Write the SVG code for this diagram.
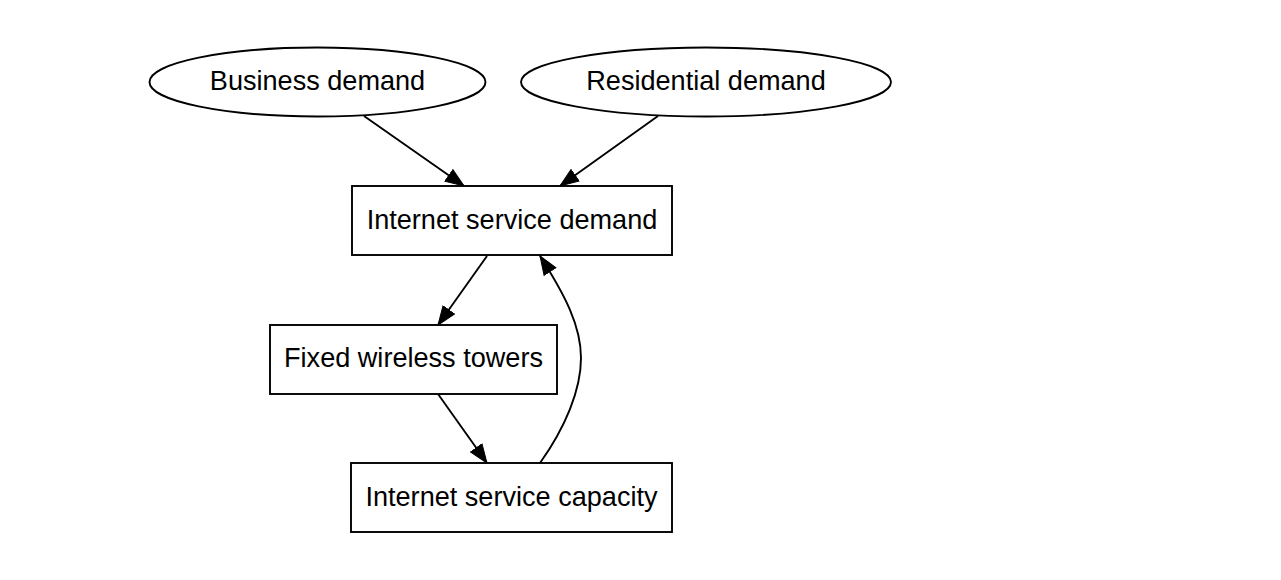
<svg xmlns="http://www.w3.org/2000/svg" width="1281" height="580" viewBox="0 0 1281 580">
<style>
.n{fill:#fff;stroke:#000;stroke-width:1.9}
.t{font-family:"Liberation Sans",Arial,sans-serif;font-size:27.1px;text-anchor:middle;fill:#000}
.e{fill:none;stroke:#000;stroke-width:1.9}
</style>
<defs>
<marker id="a" markerUnits="userSpaceOnUse" markerWidth="20" markerHeight="16" viewBox="0 0 20 16" refX="19" refY="8" orient="auto">
<path d="M0.5,1 L19,8 L0.5,15 z" fill="#000" stroke="#000" stroke-width="1"/>
</marker>
</defs>
<rect width="1281" height="580" fill="#fff"/>
<g id="edges">
<path class="e" d="M364,116 L464,186" marker-end="url(#a)"/>
<path class="e" d="M658,116 L560,186" marker-end="url(#a)"/>
<path class="e" d="M487,256 L438,325" marker-end="url(#a)"/>
<path class="e" d="M438,394 L487,463" marker-end="url(#a)"/>
<path class="e" d="M540,463 C565,428 581,390 581,358 C581,326 565,295 540,256" marker-end="url(#a)"/>
</g>
<g id="business">
<ellipse class="n" cx="317.5" cy="82" rx="168" ry="34.5"/>
<text class="t" x="317.5" y="90">Business demand</text>
</g>
<g id="residential">
<ellipse class="n" cx="706" cy="82" rx="185" ry="34.5"/>
<text class="t" x="706" y="90">Residential demand</text>
</g>
<g id="isd">
<rect class="n" x="352" y="186" width="320" height="69"/>
<text class="t" x="512" y="228.5">Internet service demand</text>
</g>
<g id="fwt">
<rect class="n" x="270" y="325" width="287" height="69"/>
<text class="t" x="413.5" y="367">Fixed wireless towers</text>
</g>
<g id="isc">
<rect class="n" x="351" y="463" width="321" height="69"/>
<text class="t" x="511.5" y="505.5">Internet service capacity</text>
</g>
</svg>
